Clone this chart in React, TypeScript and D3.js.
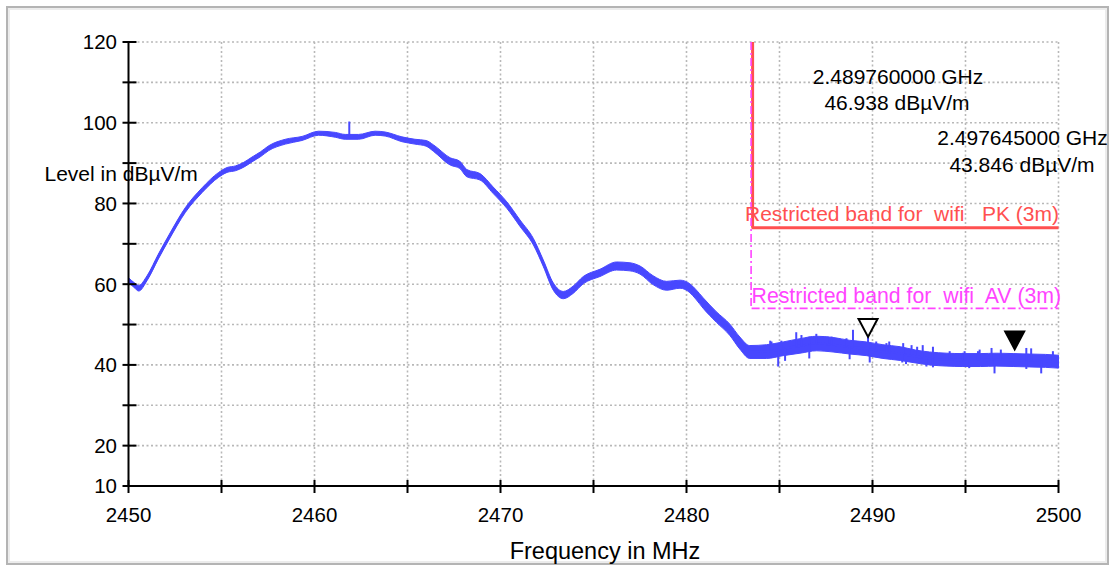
import React from "react";
import * as d3 from "d3";

// ---- data ----
const traceFreq = [
  2450.0, 2450.3, 2450.55, 2451.0, 2451.6, 2452.2, 2453.06, 2453.96, 2454.85, 2455.3,
  2455.75, 2456.2, 2456.64, 2457.1, 2457.54, 2458.43, 2459.33, 2460.22, 2461.12, 2461.65,
  2462.37, 2463.26, 2463.8, 2464.7, 2465.4, 2466.0, 2466.4, 2467.3, 2467.8, 2468.19,
  2468.9, 2469.6, 2470.34, 2471.05, 2471.77, 2472.3, 2472.84, 2473.38, 2473.9, 2474.45,
  2475.35, 2476.24, 2476.96, 2477.5, 2478.2, 2478.93, 2479.65, 2480.18, 2480.5, 2480.9,
  2481.6, 2482.33, 2482.87, 2483.4, 2484.3, 2485.2, 2486.1, 2487.0, 2487.88, 2488.77,
  2489.67, 2490.56, 2491.5, 2492.3, 2493.07, 2494.0, 2494.86, 2495.8, 2496.65, 2497.6,
  2498.44, 2499.3, 2500.0,
];
const traceLevel = [
  61.0, 59.8, 59.0, 61.5, 66.8, 71.8, 78.4, 83.3, 87.1, 88.3,
  88.7, 89.6, 90.9, 92.2, 93.7, 95.3, 96.1, 97.4, 97.0, 96.5,
  96.5, 97.4, 97.2, 95.9, 95.3, 94.9, 93.7, 90.4, 89.6, 87.5,
  86.6, 83.3, 79.6, 75.1, 70.5, 65.2, 59.4, 57.3, 58.6, 61.0,
  62.8, 64.5, 64.3, 63.5, 61.0, 59.6, 60.0, 59.0, 57.5, 55.3,
  51.9, 48.7, 45.4, 43.2, 43.3, 44.0, 44.7, 45.3, 45.0, 44.4,
  44.0, 43.3, 42.8, 42.1, 41.6, 41.3, 41.2, 41.2, 41.3, 41.2,
  41.1, 41.0, 40.8,
];
const traceSpread = [
  0.6, 0.6, 0.7, 0.6, 0.6, 0.6, 0.6, 0.6, 0.6, 0.6,
  0.6, 0.6, 0.6, 0.6, 0.6, 0.6, 0.5, 0.5, 0.6, 0.6,
  0.6, 0.5, 0.5, 0.6, 0.6, 0.7, 0.8, 0.9, 0.9, 0.9,
  0.8, 0.8, 0.8, 0.8, 0.8, 0.8, 0.9, 0.9, 0.9, 0.9,
  0.9, 1.0, 1.0, 1.0, 1.1, 1.1, 1.0, 1.1, 1.2, 1.3,
  1.3, 1.4, 1.5, 1.6, 1.7, 1.7, 1.8, 1.8, 1.8, 1.7,
  1.7, 1.7, 1.7, 1.6, 1.6, 1.6, 1.6, 1.6, 1.6, 1.6,
  1.6, 1.6, 1.6,
];
// noise spikes (frequency, tip level)
const spikeFreq = [
  2461.87, 2484.5, 2484.57, 2485.1, 2485.9, 2486.18, 2486.6, 2486.98, 2487.6, 2487.8,
  2488.6, 2488.95, 2489.76, 2490.2, 2490.75, 2490.9, 2491.65, 2492.1, 2492.4, 2492.7,
  2493.25, 2494.15, 2494.86, 2494.95, 2495.67, 2495.76, 2496.4, 2496.9, 2498.27, 2498.53,
  2499.7,
  2484.93, 2485.3, 2486.6, 2488.77, 2489.85, 2491.6, 2491.8, 2492.9, 2493.25, 2495.2,
  2496.56, 2498.27, 2499.07,
];
const spikeLevel = [
  100.3, 46.0, 45.8, 46.0, 48.1, 47.4, 47.0, 47.7, 47.0, 47.0,
  46.6, 48.7, 46.9, 45.8, 45.4, 45.8, 45.4, 44.9, 44.5, 44.9,
  44.5, 43.4, 43.0, 43.4, 43.4, 43.8, 44.2, 43.8, 44.2, 44.1,
  43.4,
  39.6, 41.0, 41.6, 41.4, 40.6, 40.6, 40.2, 39.6, 39.4, 39.2,
  37.9, 39.0, 37.9,
];

const xTicks = [2450, 2455, 2460, 2465, 2470, 2475, 2480, 2485, 2490, 2495, 2500];
const xTickLabels = [2450, 2460, 2470, 2480, 2490, 2500];
const yTicks = [10, 20, 30, 40, 50, 60, 70, 80, 90, 100, 110, 120];
const yTickLabels = [10, 20, 40, 60, 80, 100, 120];

const bandStart = 2483.5;
const pkLimit = 74;
const avLimit = 54;
const markerFreq = [2489.76, 2497.645];
const markerLevel = [46.938, 43.846];
const markerFilled = [false, true];
const markerFreqText = ["2.489760000 GHz", "2.497645000 GHz"];
const markerLevelText = ["46.938 dBµV/m", "43.846 dBµV/m"];

const FONT = "'Liberation Sans', Arial, Helvetica, sans-serif";
const BLUE = "#4848ff";
const RED = "#ff5050";
const MAGENTA = "#ff44ff";
const GRID = "#b8b8b8";

export default function App() {
  const W = 1116;
  const H = 566;
  const x = d3.scaleLinear().domain([2450, 2500]).range([128.5, 1058.5]);
  const y = d3.scaleLinear().domain([10, 120]).range([486, 42]);

  const pts = traceFreq.map((f, i) => ({ f, v: traceLevel[i], s: traceSpread[i] }));
  const area = d3
    .area<{ f: number; v: number; s: number }>()
    .x((d) => x(d.f))
    .y0((d) => y(d.v - d.s))
    .y1((d) => y(d.v + d.s))
    .curve(d3.curveMonotoneX);
  const line = d3
    .line<{ f: number; v: number; s: number }>()
    .x((d) => x(d.f))
    .y((d) => y(d.v))
    .curve(d3.curveMonotoneX);
  const centerAt = (f: number) => {
    const i = d3.bisectLeft(traceFreq, f);
    if (i <= 0) return traceLevel[0];
    if (i >= traceFreq.length) return traceLevel[traceLevel.length - 1];
    const t = (f - traceFreq[i - 1]) / (traceFreq[i] - traceFreq[i - 1]);
    return traceLevel[i - 1] + t * (traceLevel[i] - traceLevel[i - 1]);
  };

  const x0 = x(2450);
  const x1 = x(2500);
  const yTop = y(120);
  const yBot = y(10);
  const xb = x(bandStart);

  return (
    <svg
      width={W}
      height={H}
      style={{ position: "absolute", left: 0, top: 0, background: "#fff" }}
      fontFamily={FONT}
    >
      <rect x={0} y={0} width={W} height={H} fill="#fff" />
      <rect x={7} y={7} width={1101} height={557} fill="none" stroke="#b4b4b4" strokeWidth={2} />
      <rect x={9} y={9} width={1097} height={553} fill="none" stroke="#ececec" strokeWidth={2} />

      {/* grid */}
      {yTicks.filter((t) => t > 10).map((t) => (
        <line key={"gy" + t} x1={x0} x2={x1} y1={y(t)} y2={y(t)} stroke={GRID} strokeWidth={1.6} strokeDasharray="2 2.5" />
      ))}
      {xTicks.filter((t) => t > 2450).map((t) => (
        <line key={"gx" + t} x1={x(t)} x2={x(t)} y1={yTop} y2={yBot} stroke={GRID} strokeWidth={1.6} strokeDasharray="2 2.5" />
      ))}

      {/* limit lines */}
      <line x1={xb + 1} x2={xb + 1} y1={yTop} y2={y(pkLimit)} stroke={RED} strokeWidth={3} />
      <line x1={xb} x2={x1} y1={y(pkLimit)} y2={y(pkLimit)} stroke={RED} strokeWidth={3} />
      <line x1={xb - 0.5} x2={xb - 0.5} y1={yTop} y2={y(avLimit)} stroke={MAGENTA} strokeWidth={1.6} strokeDasharray="8 3 2 3" />
      <line x1={xb} x2={x1} y1={y(avLimit)} y2={y(avLimit)} stroke={MAGENTA} strokeWidth={1.6} strokeDasharray="8 3 2 3" />
      <text x={745} y={221} fontSize={21} fill={RED} style={{ whiteSpace: "pre" }}>
        {"Restricted band for  wifi   PK (3m)"}
      </text>
      <text x={751.5} y={303} fontSize={21.3} fill={MAGENTA} style={{ whiteSpace: "pre" }}>
        {"Restricted band for  wifi  AV (3m)"}
      </text>

      {/* trace */}
      <path d={area(pts) || ""} fill={BLUE} stroke={BLUE} strokeWidth={1} />
      <path d={line(pts) || ""} fill="none" stroke={BLUE} strokeWidth={2.2} />
      {spikeFreq.map((f, i) => (
        <line key={"sp" + i} x1={x(f)} x2={x(f)} y1={y(centerAt(f))} y2={y(spikeLevel[i])} stroke={BLUE} strokeWidth={2} />
      ))}

      {/* axes */}
      <line x1={x0} x2={x0} y1={yTop} y2={yBot} stroke="#000" strokeWidth={2} />
      <line x1={x0} x2={x1} y1={yBot} y2={yBot} stroke="#000" strokeWidth={2} />
      {yTicks.map((t) => (
        <line key={"ty" + t} x1={x0 - 6} x2={x0 + 8} y1={y(t)} y2={y(t)} stroke="#000" strokeWidth={2} />
      ))}
      {xTicks.map((t) => (
        <line key={"tx" + t} x1={x(t)} x2={x(t)} y1={yBot - 6} y2={yBot + 7} stroke="#000" strokeWidth={2} />
      ))}
      {yTickLabels.map((t) => (
        <text key={"ly" + t} x={117} y={y(t)} dy="0.36em" fontSize={20.5} textAnchor="end" fill="#000">
          {t}
        </text>
      ))}
      {xTickLabels.map((t) => (
        <text key={"lx" + t} x={x(t)} y={521.5} fontSize={20.5} textAnchor="middle" fill="#000">
          {t}
        </text>
      ))}
      <text x={44.5} y={181} fontSize={21} fill="#000">Level in dBµV/m</text>
      <text x={605} y={559} fontSize={23.5} textAnchor="middle" fill="#000">Frequency in MHz</text>

      {/* markers */}
      {markerFreq.map((f, i) => {
        const px = x(f);
        const py = y(markerLevel[i]);
        return (
          <path
            key={"m" + i}
            d={`M${px},${py} L${px - 9.5},${py - 18} L${px + 9.5},${py - 18} Z`}
            fill={markerFilled[i] ? "#000" : "#fff"}
            stroke="#000"
            strokeWidth={2}
            strokeLinejoin="miter"
          />
        );
      })}
      <text x={898} y={84} fontSize={21} textAnchor="middle" fill="#000">{markerFreqText[0]}</text>
      <text x={897} y={110} fontSize={21} textAnchor="middle" fill="#000">{markerLevelText[0]}</text>
      <text x={1022.5} y={145} fontSize={21} textAnchor="middle" fill="#000">{markerFreqText[1]}</text>
      <text x={1022} y={172} fontSize={21} textAnchor="middle" fill="#000">{markerLevelText[1]}</text>
    </svg>
  );
}
